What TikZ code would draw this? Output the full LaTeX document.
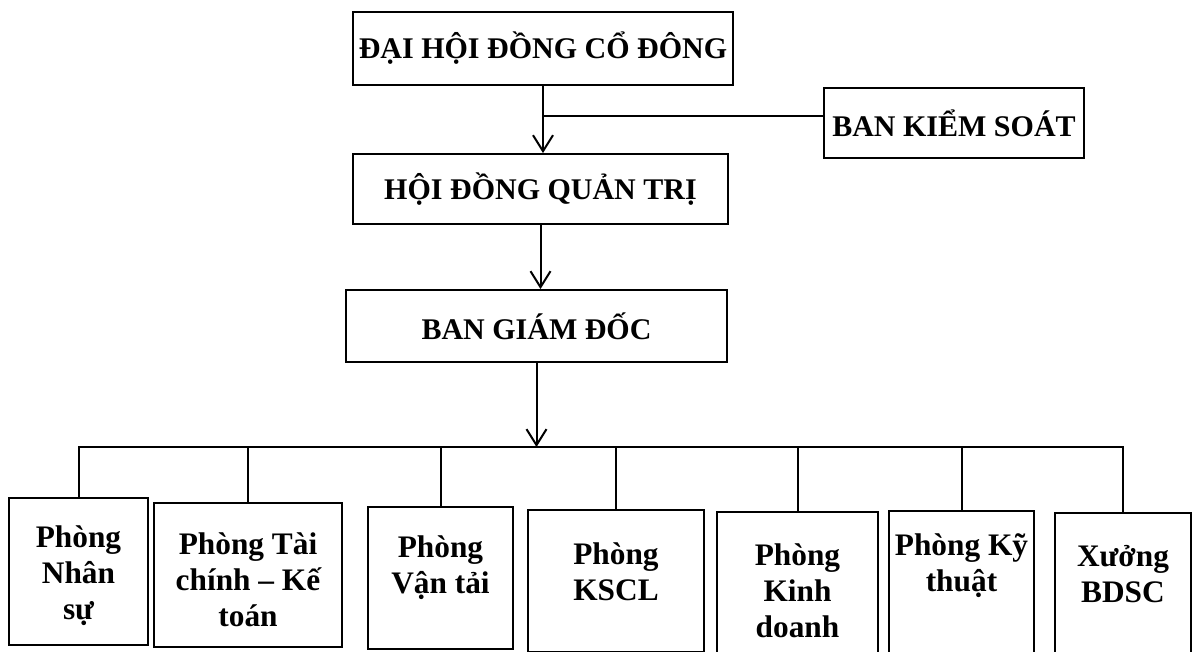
\documentclass[tikz,border=0pt]{standalone}
\usepackage{fontspec}
\setmainfont{Liberation Serif}
\usetikzlibrary{arrows.meta}

\tikzset{every picture/.style={line width=0.75pt}}
\tikzset{
  box/.style={draw, line width=1.4pt, inner sep=0pt},
  lbl/.style={align=center, inner sep=0.75pt, font=\fontsize{22.5}{26}\selectfont\bfseries},
  sublbl/.style={lbl, font=\fontsize{23.5}{27}\selectfont\bfseries},
  link/.style={line width=1.5pt},
  arr/.style={-{Straight Barb[length=12pt,width=15pt]}},
}

\begin{document}
\begin{tikzpicture}[x=0.75pt,y=0.75pt,yscale=-1,xscale=1]
\useasboundingbox (0,0) rectangle (1193,651);

%Shape: Rectangle
\node [box,lbl,minimum width=285pt,minimum height=54.75pt] (dhcd) at (543,48.5) {ĐẠI HỘI ĐỒNG CỔ ĐÔNG};
%Shape: Rectangle
\node [box,lbl,minimum width=195pt,minimum height=52.5pt] (bks) at (954,123) {BAN KIỂM SOÁT};
%Shape: Rectangle
\node [box,lbl,minimum width=281.25pt,minimum height=52.5pt] (hdqt) at (540.5,189) {HỘI ĐỒNG QUẢN TRỊ};
%Shape: Rectangle
\node [box,lbl,minimum width=285.75pt,minimum height=54pt] (bgd) at (536.5,326) {BAN GIÁM ĐỐC};

%Shape: Rectangle
\node [box,minimum width=104.25pt,minimum height=110.25pt] (pns) at (78.5,571.5) {};
\node [box,minimum width=141pt,minimum height=108pt] (ptckt) at (248,575) {};
\node [box,minimum width=108.75pt,minimum height=106.5pt] (pvt) at (440.5,578) {};
\node [box,minimum width=132pt,minimum height=106.5pt] (pkscl) at (616,581) {};
\node [box,minimum width=120.75pt,minimum height=106.5pt] (pkd) at (797.5,583) {};
\node [box,minimum width=108.75pt,minimum height=106.5pt] (pkt) at (961.5,582) {};
\node [box,minimum width=102pt,minimum height=106.5pt] (xbdsc) at (1123,584) {};

% Text Node
\node [sublbl] (tns) at (78.5,576) {Phòng\\Nhân\\sự};
% Text Node
\node [sublbl] (ttckt) at (248,580) {Phòng Tài\\chính – Kế\\toán};
% Text Node
\node [sublbl] (tvt) at (440.5,568) {Phòng\\Vận tải};
% Text Node
\node [sublbl] (tkscl) at (616,572) {Phòng\\KSCL};
% Text Node
\node [sublbl] (tkd) at (797.5,591) {Phòng\\Kinh\\doanh};
% Text Node
\node [sublbl] (tkt) at (961.5,566) {Phòng Kỹ\\thuật};
% Text Node
\node [sublbl] (tbdsc) at (1123,574) {Xưởng\\BDSC};

\coordinate (kj) at (543,116);
\coordinate (bus) at (0,447);

%Straight Lines
\draw [link,arr] (dhcd.south) -- (dhcd.south |- hdqt.north);
\draw [link] (kj) -- (kj -| bks.west);
\draw [link,arr] (hdqt.south) -- (hdqt.south |- bgd.north);
\draw [link,arr] (bgd.south) -- (bgd.south |- bus);
\draw [link] (pns.north) -- (pns.north |- bus) -- (xbdsc.north |- bus) -- (xbdsc.north);
\foreach \n in {ptckt,pvt,pkscl,pkd,pkt}
  \draw [link] (\n.north) -- (\n.north |- bus);

\end{tikzpicture}
\end{document}
